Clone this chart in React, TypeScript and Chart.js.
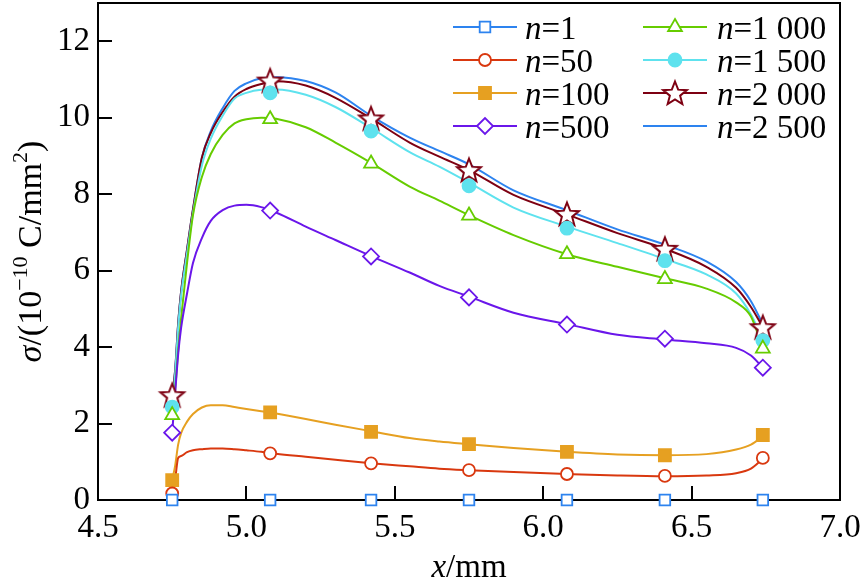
import React, { useEffect, useRef } from 'react';
import { Chart, registerables } from 'chart.js';

Chart.register(...registerables);

const FONT = '"Liberation Serif", "DejaVu Serif", serif';

// x positions of the markers
const markerX = [4.75, 5.08, 5.42, 5.75, 6.08, 6.41, 6.74];
// x positions of the smooth curves
const lineX = [4.75, 4.76, 4.77, 4.78, 4.8, 4.82, 4.85, 4.88, 4.92, 4.96, 5.0, 5.05, 5.1, 5.2, 5.3, 5.42, 5.55, 5.65, 5.75, 5.9, 6.08, 6.25, 6.41, 6.55, 6.65, 6.7, 6.74];

const n1Line = [0, 0, 0, 0, 0, 0, 0, 0, 0, 0, 0, 0, 0, 0, 0, 0, 0, 0, 0, 0, 0, 0, 0, 0, 0, 0, 0];
const n1Marks = [0, 0, 0, 0, 0, 0, 0];

const n50Line = [0.17, 0.55, 1.1, 1.15, 1.25, 1.3, 1.33, 1.35, 1.35, 1.33, 1.3, 1.26, 1.21, 1.13, 1.05, 0.96, 0.88, 0.82, 0.78, 0.73, 0.68, 0.64, 0.62, 0.64, 0.7, 0.82, 1.08];
const n50Marks = [0.17, 1.22, 0.96, 0.78, 0.68, 0.63, 1.1];

const n100Line = [0.52, 0.9, 1.45, 1.75, 2.05, 2.25, 2.42, 2.48, 2.48, 2.43, 2.38, 2.32, 2.26, 2.12, 1.97, 1.8, 1.62, 1.53, 1.46, 1.36, 1.26, 1.19, 1.17, 1.2, 1.32, 1.45, 1.66];
const n100Marks = [0.52, 2.29, 1.78, 1.46, 1.26, 1.17, 1.7];

const n500Line = [1.76, 2.8, 3.8, 4.5, 5.4, 6.2, 6.85, 7.3, 7.58, 7.7, 7.72, 7.66, 7.52, 7.15, 6.8, 6.38, 5.95, 5.6, 5.32, 4.9, 4.6, 4.32, 4.2, 4.1, 3.98, 3.78, 3.46];
const n500Marks = [1.76, 7.57, 6.37, 5.3, 4.59, 4.22, 3.46];

const n1000Line = [2.22, 2.9, 3.9, 4.75, 6.2, 7.45, 8.45, 9.05, 9.55, 9.85, 9.96, 10.0, 9.97, 9.75, 9.35, 8.82, 8.2, 7.83, 7.45, 6.93, 6.43, 6.1, 5.8, 5.53, 5.17, 4.8, 3.98];
const n1000Marks = [2.22, 9.96, 8.8, 7.44, 6.43, 5.78, 3.96];

const n1500Line = [2.43, 3.3, 4.5, 5.35, 6.45, 7.5, 8.75, 9.45, 10.05, 10.5, 10.65, 10.73, 10.74, 10.6, 10.28, 9.73, 9.1, 8.72, 8.3, 7.65, 7.15, 6.72, 6.3, 5.9, 5.4, 4.85, 4.2];
const n1500Marks = [2.43, 10.65, 9.65, 8.22, 7.11, 6.26, 4.17];

const n2000Line = [2.74, 3.4, 4.6, 5.45, 6.55, 7.6, 8.95, 9.6, 10.15, 10.55, 10.75, 10.88, 10.95, 10.84, 10.52, 9.98, 9.35, 8.98, 8.63, 7.98, 7.47, 6.98, 6.57, 6.1, 5.55, 5.05, 4.52];
const n2000Marks = [2.74, 10.97, 9.98, 8.63, 7.48, 6.57, 4.52];

const n2500Line = [2.7, 3.4, 4.6, 5.45, 6.55, 7.6, 8.95, 9.65, 10.25, 10.7, 10.9, 11.03, 11.06, 10.96, 10.66, 10.05, 9.48, 9.13, 8.78, 8.1, 7.58, 7.08, 6.68, 6.24, 5.7, 5.2, 4.6];

const seriesLabels = ['1', '50', '100', '500', '1 000', '1 500', '2 000', '2 500'];

const xTicks = [4.5, 5.0, 5.5, 6.0, 6.5, 7.0];
const yTicks = [0, 2, 4, 6, 8, 10, 12];

type Style = 'rect' | 'circle' | 'rectRot' | 'triangle' | 'star' | null;
interface Series {
  label: string;
  line: number[];
  marks: number[] | null;
  color: string;
  style: Style;
  radius: number;
  filled: boolean;
}

const BLUE = '#2d83ef';
const series: Series[] = [
  { label: seriesLabels[0], line: n1Line, marks: n1Marks, color: BLUE, style: 'rect', radius: 7.5, filled: false },
  { label: seriesLabels[1], line: n50Line, marks: n50Marks, color: '#d9380f', style: 'circle', radius: 6, filled: false },
  { label: seriesLabels[2], line: n100Line, marks: n100Marks, color: '#e6a021', style: 'rect', radius: 8.5, filled: true },
  { label: seriesLabels[3], line: n500Line, marks: n500Marks, color: '#6a16ea', style: 'rectRot', radius: 8, filled: false },
  { label: seriesLabels[4], line: n1000Line, marks: n1000Marks, color: '#66cc00', style: 'triangle', radius: 8, filled: false },
  { label: seriesLabels[5], line: n1500Line, marks: n1500Marks, color: '#5ee2ee', style: 'circle', radius: 6.5, filled: true },
  { label: seriesLabels[6], line: n2000Line, marks: n2000Marks, color: '#7d0012', style: 'star', radius: 12, filled: false },
  { label: seriesLabels[7], line: n2500Line, marks: null, color: BLUE, style: null, radius: 0, filled: false },
];

function makeStar(color: string): HTMLCanvasElement {
  const c = document.createElement('canvas');
  c.width = 30;
  c.height = 30;
  const g = c.getContext('2d')!;
  const cx = 15, cy = 16, R = 12.5, r = 5.4;
  g.beginPath();
  for (let i = 0; i < 10; i++) {
    const a = -Math.PI / 2 + (i * Math.PI) / 5;
    const rr = i % 2 ? r : R;
    const px = cx + rr * Math.cos(a);
    const py = cy + rr * Math.sin(a);
    if (i) g.lineTo(px, py);
    else g.moveTo(px, py);
  }
  g.closePath();
  g.fillStyle = '#ffffff';
  g.fill();
  g.lineWidth = 2;
  g.strokeStyle = color;
  g.lineJoin = 'miter';
  g.stroke();
  return c;
}

function drawMarker(ctx: CanvasRenderingContext2D, s: Series, x: number, y: number, star: HTMLCanvasElement) {
  if (!s.style) return;
  if (s.style === 'star') {
    ctx.drawImage(star, x - star.width / 2, y - star.height / 2);
    return;
  }
  ctx.save();
  ctx.lineWidth = 1.8;
  ctx.strokeStyle = s.color;
  ctx.fillStyle = s.filled ? s.color : '#ffffff';
  ctx.beginPath();
  const r = s.radius;
  if (s.style === 'rect') {
    const h = r * Math.SQRT1_2;
    ctx.rect(x - h, y - h, 2 * h, 2 * h);
  } else if (s.style === 'circle') {
    ctx.arc(x, y, r, 0, Math.PI * 2);
  } else if (s.style === 'rectRot') {
    ctx.moveTo(x - r, y);
    ctx.lineTo(x, y - r);
    ctx.lineTo(x + r, y);
    ctx.lineTo(x, y + r);
    ctx.closePath();
  } else if (s.style === 'triangle') {
    for (let i = 0; i < 3; i++) {
      const a = (i * 2 * Math.PI) / 3;
      const px = x + Math.sin(a) * r;
      const py = y - Math.cos(a) * r;
      if (i) ctx.lineTo(px, py);
      else ctx.moveTo(px, py);
    }
    ctx.closePath();
  }
  ctx.fill();
  ctx.stroke();
  ctx.restore();
}

function drawRich(ctx: CanvasRenderingContext2D, parts: { t: string; italic?: boolean; sup?: boolean }[], size: number, x: number, y: number, align: 'left' | 'center') {
  const supSize = Math.round(size * 0.64);
  const fontOf = (p: { italic?: boolean; sup?: boolean }) => `${p.italic ? 'italic ' : ''}${p.sup ? supSize : size}px ${FONT}`;
  let total = 0;
  for (const p of parts) {
    ctx.font = fontOf(p);
    total += ctx.measureText(p.t).width;
  }
  let cx = align === 'center' ? x - total / 2 : x;
  ctx.textAlign = 'left';
  ctx.textBaseline = 'alphabetic';
  for (const p of parts) {
    ctx.font = fontOf(p);
    ctx.fillText(p.t, cx, p.sup ? y - size * 0.4 : y);
    cx += ctx.measureText(p.t).width;
  }
}

export default function App() {
  const ref = useRef<HTMLCanvasElement | null>(null);

  useEffect(() => {
    let chart: Chart | null = null;
    let cancelled = false;

    const build = () => {
      if (cancelled || !ref.current) return;
      const star = makeStar(series[6].color);

      const lineSets = series.map((s) => ({
        label: 'n=' + s.label,
        data: lineX.map((x, i) => ({ x, y: s.line[i] })),
        borderColor: s.color,
        backgroundColor: s.color,
        borderWidth: 2,
        pointRadius: 0,
        pointHoverRadius: 0,
        showLine: true,
        fill: false,
        cubicInterpolationMode: 'monotone' as const,
        order: 1,
        clip: 4,
      }));

      const markSets = series
        .filter((s) => s.marks)
        .map((s) => ({
          label: 'm' + s.label,
          data: markerX.map((x, i) => ({ x, y: (s.marks as number[])[i] })),
          borderColor: s.color,
          backgroundColor: s.filled ? s.color : '#ffffff',
          borderWidth: 1.8,
          pointStyle: s.style === 'star' ? star : s.style,
          pointRadius: s.radius,
          pointHoverRadius: s.radius,
          showLine: false,
          order: 0,
          clip: 20,
        }));

      const overlay = {
        id: 'overlay',
        afterDatasetDraw(c: any, args: any) {
          if (args.index !== 0) return;
          const ctx: CanvasRenderingContext2D = c.ctx;
          const a = c.chartArea;
          const xs = c.scales.x;
          const ys = c.scales.y;
          ctx.save();
          ctx.strokeStyle = '#000';
          ctx.lineWidth = 2;
          ctx.strokeRect(a.left, a.top, a.right - a.left, a.bottom - a.top);
          ctx.beginPath();
          for (const v of xTicks) {
            if (v === xTicks[0] || v === xTicks[xTicks.length - 1]) continue;
            const px = Math.round(xs.getPixelForValue(v));
            ctx.moveTo(px, a.bottom);
            ctx.lineTo(px, a.bottom - 14);
          }
          for (const v of yTicks) {
            if (v === 0) continue;
            const py = Math.round(ys.getPixelForValue(v));
            ctx.moveTo(a.left, py);
            ctx.lineTo(a.left + 14, py);
          }
          ctx.stroke();
          ctx.restore();
        },
        afterDraw(c: any) {
          const ctx: CanvasRenderingContext2D = c.ctx;
          const a = c.chartArea;
          ctx.save();
          ctx.fillStyle = '#000';
          drawRich(ctx, [{ t: 'x', italic: true }, { t: '/mm' }], 33, (a.left + a.right) / 2, 577, 'center');
          ctx.save();
          ctx.translate(41, (a.top + a.bottom) / 2);
          ctx.rotate(-Math.PI / 2);
          drawRich(
            ctx,
            [
              { t: 'σ', italic: true },
              { t: '/(10' },
              { t: '−10', sup: true },
              { t: ' C/mm' },
              { t: '2', sup: true },
              { t: ')' },
            ],
            34,
            0,
            0,
            'center'
          );
          ctx.restore();
          const cols = [
            { x0: 453, x1: 517, tx: 525 },
            { x0: 643, x1: 707, tx: 717 },
          ];
          const rows = [27, 60, 93, 126];
          series.forEach((s, i) => {
            const col = cols[Math.floor(i / 4)];
            const y = rows[i % 4];
            ctx.save();
            ctx.strokeStyle = s.color;
            ctx.lineWidth = 2;
            ctx.beginPath();
            ctx.moveTo(col.x0, y);
            ctx.lineTo(col.x1, y);
            ctx.stroke();
            ctx.restore();
            drawMarker(ctx, s, (col.x0 + col.x1) / 2, y, star);
            ctx.fillStyle = '#000';
            drawRich(ctx, [{ t: 'n', italic: true }, { t: '=' + s.label }], 33, col.tx, y + 12, 'left');
          });
          ctx.restore();
        },
      };

      chart = new Chart(ref.current, {
        type: 'scatter',
        data: { datasets: [...lineSets, ...markSets] as any },
        options: {
          animation: false,
          responsive: false,
          devicePixelRatio: 1,
          events: [],
          layout: { autoPadding: false, padding: { left: 0, right: 23, top: 3, bottom: 0 } },
          plugins: { legend: { display: false }, tooltip: { enabled: false } },
          scales: {
            x: {
              type: 'linear',
              min: xTicks[0],
              max: xTicks[xTicks.length - 1],
              afterBuildTicks: (s: any) => {
                s.ticks = xTicks.map((v) => ({ value: v }));
              },
              ticks: {
                callback: (v: any) => Number(v).toFixed(1),
                font: { family: FONT, size: 33 },
                color: '#000',
                padding: 9,
                maxRotation: 0,
                autoSkip: false,
              },
              grid: { display: false, drawTicks: false },
              border: { display: false },
              afterFit: (s: any) => {
                s.height = 81;
                s.paddingLeft = 0;
                s.paddingRight = 0;
              },
            },
            y: {
              type: 'linear',
              min: 0,
              max: 13,
              afterBuildTicks: (s: any) => {
                s.ticks = yTicks.map((v) => ({ value: v }));
              },
              ticks: {
                callback: (v: any) => String(v),
                font: { family: FONT, size: 33 },
                color: '#000',
                padding: 8,
                autoSkip: false,
              },
              grid: { display: false, drawTicks: false },
              border: { display: false },
              afterFit: (s: any) => {
                s.width = 98;
                s.paddingTop = 0;
                s.paddingBottom = 0;
              },
            },
          },
        },
        plugins: [overlay],
      });
    };

    const fonts: any = (document as any).fonts;
    if (fonts && fonts.load) {
      Promise.all([
        fonts.load('33px "Liberation Serif"'),
        fonts.load('italic 33px "Liberation Serif"'),
      ])
        .catch(() => null)
        .then(() => build());
    } else {
      build();
    }

    return () => {
      cancelled = true;
      if (chart) chart.destroy();
    };
  }, []);

  return (
    <div style={{ position: 'absolute', left: 0, top: 0, width: 863, height: 581, background: '#fff' }}>
      <canvas ref={ref} width={863} height={581} style={{ display: 'block' }} />
    </div>
  );
}
